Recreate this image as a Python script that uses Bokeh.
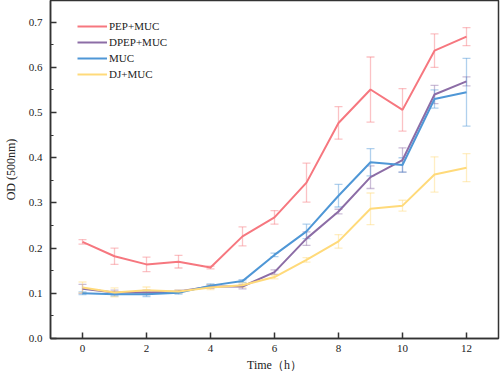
from bokeh.plotting import figure
from bokeh.models import ColumnDataSource, Whisker, TeeHead, Legend, LegendItem, Range1d, FixedTicker, NumeralTickFormatter
from bokeh.embed import file_html
from bokeh.resources import INLINE

time = [0, 1, 2, 3, 4, 5, 6, 7, 8, 9, 10, 11, 12]

pep_muc = [0.214, 0.182, 0.164, 0.170, 0.157, 0.226, 0.268, 0.345, 0.477, 0.551, 0.506, 0.637, 0.668]
pep_err = [0.005, 0.018, 0.016, 0.014, 0.003, 0.021, 0.015, 0.043, 0.036, 0.072, 0.047, 0.037, 0.020]

dpep_muc = [0.110, 0.102, 0.102, 0.104, 0.115, 0.115, 0.147, 0.221, 0.281, 0.357, 0.395, 0.540, 0.569]
dpep_err = [0.010, 0.005, 0.005, 0.003, 0.004, 0.005, 0.005, 0.015, 0.005, 0.025, 0.027, 0.020, 0.010]

muc = [0.100, 0.098, 0.098, 0.101, 0.117, 0.127, 0.185, 0.237, 0.316, 0.390, 0.384, 0.530, 0.545]
muc_err = [0.003, 0.004, 0.005, 0.003, 0.004, 0.003, 0.004, 0.016, 0.025, 0.030, 0.016, 0.020, 0.075]

dj_muc = [0.113, 0.102, 0.107, 0.104, 0.113, 0.118, 0.136, 0.174, 0.215, 0.287, 0.294, 0.363, 0.378]
dj_err = [0.012, 0.010, 0.007, 0.003, 0.005, 0.005, 0.004, 0.005, 0.015, 0.035, 0.012, 0.039, 0.031]

series_names = ["PEP+MUC", "DPEP+MUC", "MUC", "DJ+MUC"]
colors = ["#F6777F", "#8C6DA6", "#4F97D6", "#FFDA7A"]

x_ticks = [0, 2, 4, 6, 8, 10, 12]
y_ticks = [0.0, 0.1, 0.2, 0.3, 0.4, 0.5, 0.6, 0.7]

FONT = "Liberation Serif"

p = figure(frame_width=448, frame_height=338, output_backend="svg", toolbar_location=None,
           x_range=Range1d(-1, 13), y_range=Range1d(0, 0.748),
           min_border_left=42, min_border_right=2, min_border_top=0, min_border_bottom=0)
p.grid.visible = False
p.outline_line_color = "#333333"
p.outline_line_width = 1.5
p.background_fill_color = "white"

p.xaxis.ticker = FixedTicker(ticks=x_ticks)
p.yaxis.ticker = FixedTicker(ticks=y_ticks, minor_ticks=[v + 0.05 for v in y_ticks])
p.yaxis.formatter = NumeralTickFormatter(format="0.0")
for ax in (p.xaxis[0], p.yaxis[0]):
    ax.axis_line_color = "#333333"
    ax.axis_line_width = 1.5
    ax.major_tick_line_color = "#333333"
    ax.major_tick_line_width = 1.5
    ax.minor_tick_line_color = "#333333"
    ax.major_tick_in = 6
    ax.major_tick_out = 0
    ax.minor_tick_in = 3
    ax.minor_tick_out = 0
    ax.major_label_text_font = FONT
    ax.major_label_text_font_size = "11px"
    ax.major_label_text_color = "#222222"
    ax.axis_label_text_font = FONT
    ax.axis_label_text_font_size = "12px"
    ax.axis_label_text_font_style = "normal"
    ax.axis_label_text_color = "#222222"
p.xaxis.minor_tick_line_color = None
p.xaxis.axis_label = "Time（h）"
p.yaxis.axis_label = "OD (500nm)"
p.xaxis.major_label_standoff = 6
p.yaxis.major_label_standoff = 8
p.xaxis.axis_label_standoff = 3
p.yaxis.axis_label_standoff = 8

all_vals = [pep_muc, dpep_muc, muc, dj_muc]
all_errs = [pep_err, dpep_err, muc_err, dj_err]

items = []
for name, vals, errs, c in zip(series_names, all_vals, all_errs, colors):
    src = ColumnDataSource(dict(x=time, y=vals,
                                lo=[v - e for v, e in zip(vals, errs)],
                                hi=[v + e for v, e in zip(vals, errs)]))
    w = Whisker(source=src, base="x", lower="lo", upper="hi",
                line_color=c, line_alpha=0.45, line_width=1.3,
                upper_head=TeeHead(size=8, line_color=c, line_alpha=0.45, line_width=1.3),
                lower_head=TeeHead(size=8, line_color=c, line_alpha=0.45, line_width=1.3))
    p.add_layout(w)
    r = p.line("x", "y", source=src, line_color=c, line_width=2)
    items.append(LegendItem(label=name, renderers=[r]))

legend = Legend(items=items, location=(27, 257), label_text_font=FONT,
                label_text_font_size="11px", label_text_color="#222222",
                glyph_width=30, glyph_height=14, label_height=14, spacing=2,
                label_standoff=2, padding=0, margin=0,
                background_fill_alpha=0, border_line_color=None)
p.add_layout(legend)

open("out.html", "w").write(file_html(p, INLINE))
